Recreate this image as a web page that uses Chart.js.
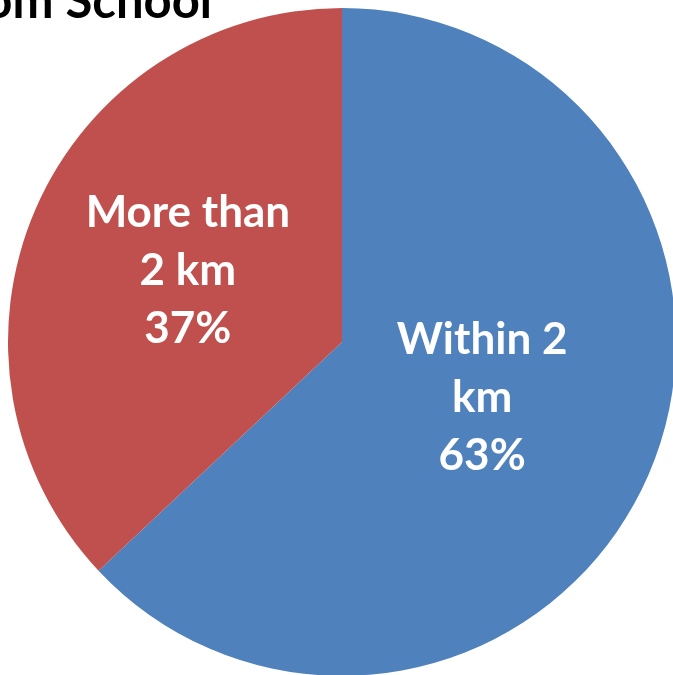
<!DOCTYPE html>
<html>
<head>
<meta charset="utf-8">
<script src="https://cdn.jsdelivr.net/npm/chart.js@4.4.0/dist/chart.umd.min.js"></script>
<style>
    html, body {
        margin: 0;
        padding: 0;
        width: 673px;
        height: 675px;
        overflow: hidden;
        background: #ffffff;
    }
    .titulo {
        position: absolute;
        right: 461px;
        top: -25px;
        white-space: nowrap;
        font-family: Lato, "Open Sans", sans-serif;
        font-weight: bold;
        font-size: 49px;
        line-height: 1;
        color: #000000;
        z-index: 2;
    }
    .contenedor {
        position: absolute;
        left: 8px;
        top: 8px;
        width: 668px;
        height: 668px;
    }
</style>
</head>
<body>
<div class="titulo">Distance from School</div>
<div class="contenedor"><canvas id="pastel"></canvas></div>
<script>
const categorias = ["Within 2 km", "More than 2 km"];
const lineasEtiqueta = [["Within 2", "km"], ["More than", "2 km"]];
const porcentajes = [63, 37];
const colores = ["#4F81BD", "#C0504D"];

// etiquetas dentro de cada rebanada (no hay plugin datalabels)
const etiquetasPlugin = {
    id: "etiquetas",
    afterDatasetsDraw(chart) {
        const ctx = chart.ctx;
        const meta = chart.getDatasetMeta(0);
        ctx.save();
        ctx.fillStyle = "#ffffff";
        ctx.font = "bold 44px Lato, 'Open Sans', sans-serif";
        ctx.textAlign = "center";
        ctx.textBaseline = "middle";
        meta.data.forEach((arc, i) => {
            const p = arc.getProps(["x", "y", "startAngle", "endAngle", "outerRadius"], true);
            const medio = (p.startAngle + p.endAngle) / 2;
            const r = p.outerRadius * 0.48;
            const cx = p.x + Math.cos(medio) * r - 7;
            const cy = p.y + Math.sin(medio) * r - 8;
            const lineas = lineasEtiqueta[i].concat([porcentajes[i] + "%"]);
            const alto = 58;
            lineas.forEach((texto, j) => {
                ctx.fillText(texto, cx, cy + (j - (lineas.length - 1) / 2) * alto);
            });
        });
        ctx.restore();
    }
};

const ctx = document.getElementById("pastel").getContext("2d");
const grafico = new Chart(ctx, {
    type: "pie",
    data: {
        labels: categorias,
        datasets: [{
            data: porcentajes,
            backgroundColor: colores,
            borderWidth: 0
        }]
    },
    options: {
        responsive: true,
        maintainAspectRatio: false,
        animation: false,
        layout: { padding: 0 },
        plugins: {
            legend: { display: false },
            title: { display: false },
            tooltip: { enabled: false }
        }
    },
    plugins: [etiquetasPlugin]
});
</script>
</body>
</html>
